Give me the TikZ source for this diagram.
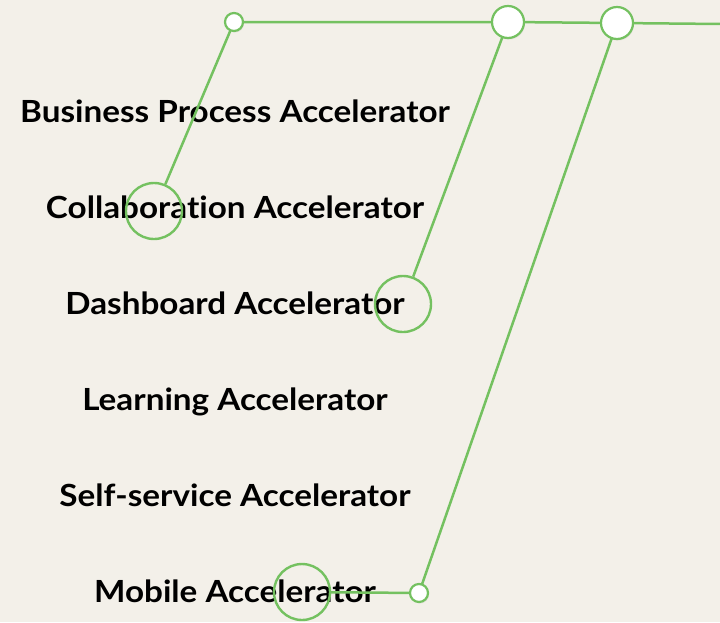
\documentclass[tikz,border=0pt]{standalone}
\usepackage{fontspec}
\setmainfont{Lato}[FakeStretch=1.09, Ligatures=NoCommon]
\usetikzlibrary{shadows}
\definecolor{bg}{RGB}{243,240,233}
\definecolor{gr}{RGB}{116,193,96}
\begin{document}
\begin{tikzpicture}[x=1pt,y=-1pt,
  lbl/.style={font=\fontsize{30.5}{34}\selectfont\bfseries, text=black, inner sep=0pt, anchor=base},
  smalldot/.style={circle, draw=gr, line width=2.2pt, fill=white, minimum size=18pt, inner sep=0pt, drop shadow={opacity=0.15, shadow xshift=1pt, shadow yshift=-1.5pt}},
  bigdot/.style={circle, draw=gr, line width=2.2pt, fill=white, minimum size=32pt, inner sep=0pt, drop shadow={opacity=0.15, shadow xshift=1pt, shadow yshift=-1.5pt}},
  ring/.style={circle, draw=gr, line width=2.4pt, minimum size=56pt, inner sep=0pt},
  conn/.style={draw=gr, line width=2.5pt}]
\fill[bg] (0,0) rectangle (720,622);
\useasboundingbox (0,0) rectangle (720,622);
% labels
\node[lbl] (t1) at (235,122) {Business Process Accelerator};
\node[lbl] (t2) at (235,218) {Collaboration Accelerator};
\node[lbl] (t3) at (235,314) {Dashboard Accelerator};
\node[lbl] (t4) at (235,410) {Learning Accelerator};
\node[lbl] (t5) at (235,506) {Self-service Accelerator};
\node[lbl] (t6) at (235,602) {Mobile Accelerator};
% anchors
\coordinate (e) at (722,24);
\node[ring] (r1) at (154,211) {};
\node[ring] (r2) at (403,304) {};
\node[ring] (r3) at (302,592) {};
% connectors
\draw[conn] (r1) -- (234,22);
\draw[conn] (r2) -- (508,22);
\draw[conn] (r3) -- (419,593) -- (617,23);
\draw[conn] (234,22) -- (508,22) -- (617,23) -- (e);
\node[smalldot] (s1) at (234,22) {};
\node[bigdot] (b1) at (508,22) {};
\node[bigdot] (b2) at (617,23) {};
\node[smalldot] (s2) at (419,593) {};
\end{tikzpicture}
\end{document}
